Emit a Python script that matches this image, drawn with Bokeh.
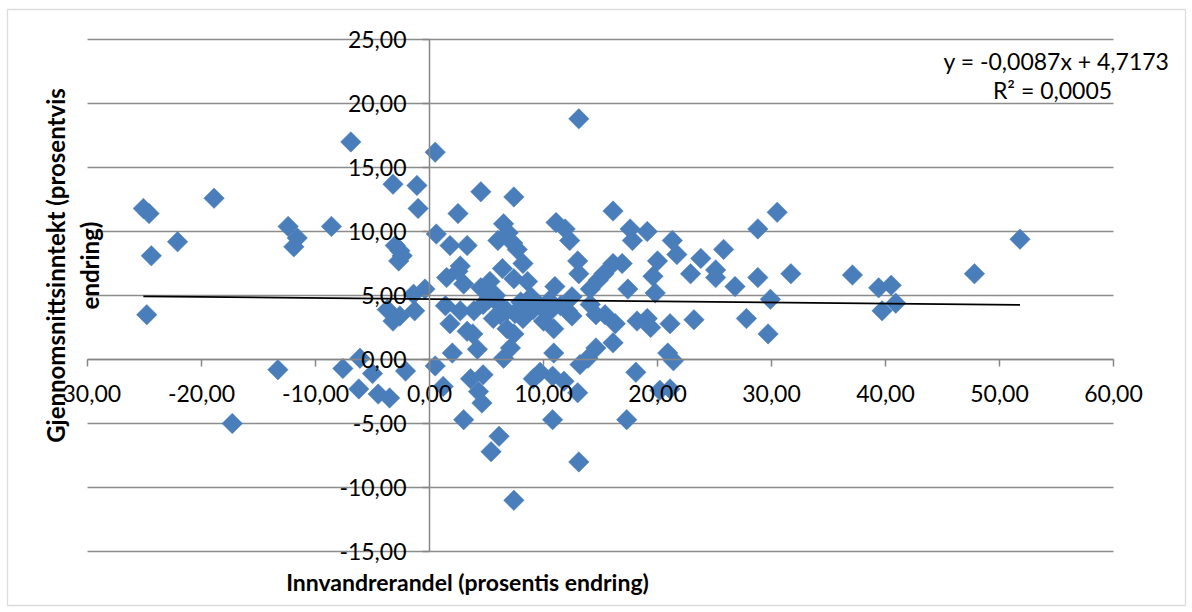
import math
from bokeh.plotting import figure
from bokeh.models import FixedTicker, Label, Range1d, BoxAnnotation
from bokeh.embed import file_html
from bokeh.resources import INLINE

# ---- data ----
x_vals = [
    -25.1, -24.6, -24.4, -24.8, -22.1, -18.9, -17.3, -13.3, -12.4, -11.6, -11.9, -8.6,
    -7.6, -6.9, -6.1, -6.2, -5.0, -4.5, -3.5, -3.2, -1.1, -1.0, -3.0, -2.6, -2.4, -2.7,
    -1.4, -0.4, -3.7, -3.2, -2.6, -1.3, -2.1, 0.5, 0.6, 0.5,
    1.8, 2.5, 3.3, 4.5, 7.4, 6.5, 6.9, 6.0, 7.3, 7.7, 8.2, 8.6, 7.4, 6.4, 5.3, 4.5,
    2.7, 2.5, 1.5, 3.0, 11.1, 11.9, 12.3, 13.1, 16.1, 17.6, 17.8, 19.1, 21.3, 21.7,
    23.8, 25.8, 22.9, 25.1, 25.1, 26.8, 20.0, 19.6, 19.8, 17.4, 16.9, 16.1, 13.0, 13.1,
    11.0, 15.3, 14.8, 14.1, 12.5, 28.8, 30.5, 28.8, 31.7, 29.9, 27.8, 29.7, 23.2, 51.8,
    47.8, 37.1, 39.4, 40.5, 40.9, 39.7,
    1.4, 1.8, 3.9, 3.3, 3.8, 4.2, 2.0, 4.7, 6.2, 5.6, 6.8, 7.4, 7.1, 6.5, 8.2, 9.1,
    10.0, 7.9, 1.2, 3.6, 4.7, 4.3, 4.6, 3.0, 6.1, 5.4, 7.4, 9.1, 9.7, 10.8, 11.8, 10.9,
    10.8, 13.0, 13.1, 13.2, 13.9, 14.6, 16.1, 18.1, 17.3, 20.9, 21.4, 20.2, 21.1, 10.6,
    10.9, 12.1, 12.5, 14.1, 14.6, 15.4, 16.3, 18.2, 19.1, 19.4, 21.1, 5.2, 8.0, 9.7,
    2.7, 8.9, 5.0, 6.0, 6.8, 7.5, 5.8, 10.5, 11.5,
]
y_vals = [
    11.8, 11.4, 8.1, 3.5, 9.2, 12.6, -5.0, -0.8, 10.4, 9.5, 8.8, 10.4,
    -0.7, 17.0, 0.1, -2.3, -1.1, -2.7, -3.0, 13.7, 13.6, 11.8, 8.9, 8.5, 8.1, 7.7,
    5.1, 5.5, 3.9, 3.0, 3.4, 3.8, -0.9, 16.2, 9.8, -0.5,
    8.9, 11.4, 8.9, 13.1, 12.7, 10.6, 9.9, 9.3, 9.1, 8.6, 7.5, 6.1, 6.3, 7.1, 6.1, 5.6,
    7.3, 6.9, 6.4, 5.9, 10.7, 10.2, 9.3, 18.8, 11.6, 10.2, 9.3, 10.0, 9.3, 8.2,
    7.9, 8.6, 6.7, 7.0, 6.4, 5.7, 7.7, 6.5, 5.2, 5.5, 7.5, 7.5, 7.7, 6.7,
    5.7, 6.7, 6.2, 5.5, 4.9, 10.2, 11.5, 6.4, 6.7, 4.7, 3.2, 2.0, 3.1, 9.4,
    6.7, 6.6, 5.6, 5.8, 4.4, 3.8,
    4.2, 2.8, 3.8, 2.2, 2.0, 0.8, 0.5, 4.3, 3.5, 3.2, 2.4, 2.0, 0.9, 0.1, 3.2, 3.9,
    3.0, 4.0, -2.1, -1.5, -1.2, -2.5, -3.4, -4.7, -6.0, -7.2, -11.0, -1.5, -1.0, -1.3, -1.7, 0.5,
    -4.7, -2.6, -8.0, -0.4, 0.1, 0.9, 1.3, -1.0, -4.7, 0.5, -0.1, -2.4, -2.3, 3.8,
    2.4, 3.8, 3.4, 4.3, 3.5, 3.5, 2.8, 3.0, 3.2, 2.5, 2.8, 4.7, 4.5, 4.2,
    3.8, 4.9, 4.6, 4.4, 3.8, 3.6, 5.0, 4.6, 4.2,
]

# trendline reported in the reference
trend_slope = -0.0087
trend_intercept = 4.7173
trend_text = ["y = -0,0087x + 4,7173", "R\u00b2 = 0,0005"]

x_ticks = [-30, -20, -10, 0, 10, 20, 30, 40, 50, 60]
y_ticks = [-15, -10, -5, 0, 5, 10, 15, 20, 25]
x_title = "Innvandrerandel (prosentis endring)"
y_title = "Gjennomsnittsinntekt (prosentvis\nendring)"


def fmt(v):
    return f"{v:.2f}".replace(".", ",")


FONT = "Lato"
GRID = "#8c8c8c"
BLUE = "#4A7EBB"

W, H = 1190, 608
# layout: the plotting area (-30..60, -15..25) sits at page px x 87..1113, y 39..551
PX_X0, PX_X1, PX_Y0, PX_Y1 = 87.0, 1113.0, 39.0, 551.0
sx = (PX_X1 - PX_X0) / (x_ticks[-1] - x_ticks[0])
sy = (PX_Y1 - PX_Y0) / (y_ticks[-1] - y_ticks[0])


def px2x(px):
    return x_ticks[0] + (px - PX_X0) / sx


def py2y(py):
    return y_ticks[-1] - (py - PX_Y0) / sy


p = figure(
    width=W, height=H,
    x_range=Range1d(px2x(0), px2x(W)), y_range=Range1d(py2y(H), py2y(0)),
    output_backend="svg", toolbar_location=None, title=None,
    min_border_left=0, min_border_right=0, min_border_top=0, min_border_bottom=0,
)
p.outline_line_color = None
p.background_fill_color = "white"
p.border_fill_color = "white"
p.xgrid.visible = False
p.ygrid.visible = False

# outer chart border
p.add_layout(BoxAnnotation(left=px2x(7), right=px2x(1185), top=py2y(9), bottom=py2y(605),
                           fill_color=None, line_color="#8a8a8a", line_width=1.3))

# horizontal gridlines over the plot area
p.segment(x0=[x_ticks[0]] * len(y_ticks), x1=[x_ticks[-1]] * len(y_ticks),
          y0=y_ticks, y1=y_ticks, line_color=GRID, line_width=1.4)

# axes crossing at zero
p.xaxis.fixed_location = 0
p.yaxis.fixed_location = 0
p.xaxis.bounds = (x_ticks[0], x_ticks[-1])
p.yaxis.bounds = (y_ticks[0], y_ticks[-1])
for ax in (p.xaxis, p.yaxis):
    ax.axis_line_color = "#868686"
    ax.axis_line_width = 1.5
    ax.major_tick_line_color = "#868686"
    ax.major_tick_line_width = 1.5
    ax.major_tick_in = 0
    ax.major_tick_out = 7
    ax.minor_tick_line_color = None
    ax.major_label_text_font = FONT
    ax.major_label_text_font_size = "23px"
    ax.major_label_text_color = "black"
p.xaxis.ticker = FixedTicker(ticks=x_ticks)
p.yaxis.ticker = FixedTicker(ticks=y_ticks)
p.xaxis.major_label_overrides = {t: fmt(t) for t in x_ticks}
p.yaxis.major_label_overrides = {t: fmt(t) for t in y_ticks}
p.xaxis.major_label_standoff = 18
p.yaxis.major_label_standoff = 16

# points
p.scatter(x_vals, y_vals, marker="square", angle=math.pi / 4, size=14.5,
          fill_color=BLUE, line_color=BLUE, line_width=0.5)

# linear trendline across data range
x0, x1 = min(x_vals), max(x_vals)
p.line([x0, x1], [trend_slope * x0 + trend_intercept, trend_slope * x1 + trend_intercept],
       line_color="black", line_width=1.8)

# texts
p.add_layout(Label(x=px2x(1056), y=py2y(60), text=trend_text[0], text_font=FONT,
                   text_font_size="23px", text_align="center", text_baseline="middle",
                   text_color="black"))
p.add_layout(Label(x=px2x(1052), y=py2y(89), text=trend_text[1], text_font=FONT,
                   text_font_size="23px", text_align="center", text_baseline="middle",
                   text_color="black"))
p.add_layout(Label(x=px2x(467), y=py2y(581), text=x_title, text_font=FONT,
                   text_font_size="23px", text_font_style="bold", text_align="center",
                   text_baseline="middle", text_color="black"))
p.add_layout(Label(x=px2x(72), y=py2y(265), text=y_title, text_font=FONT,
                   text_font_size="24px", text_font_style="bold", text_align="center",
                   text_baseline="middle", angle=math.pi / 2, text_color="black"))

open("out.html", "w").write(file_html(p, INLINE))
